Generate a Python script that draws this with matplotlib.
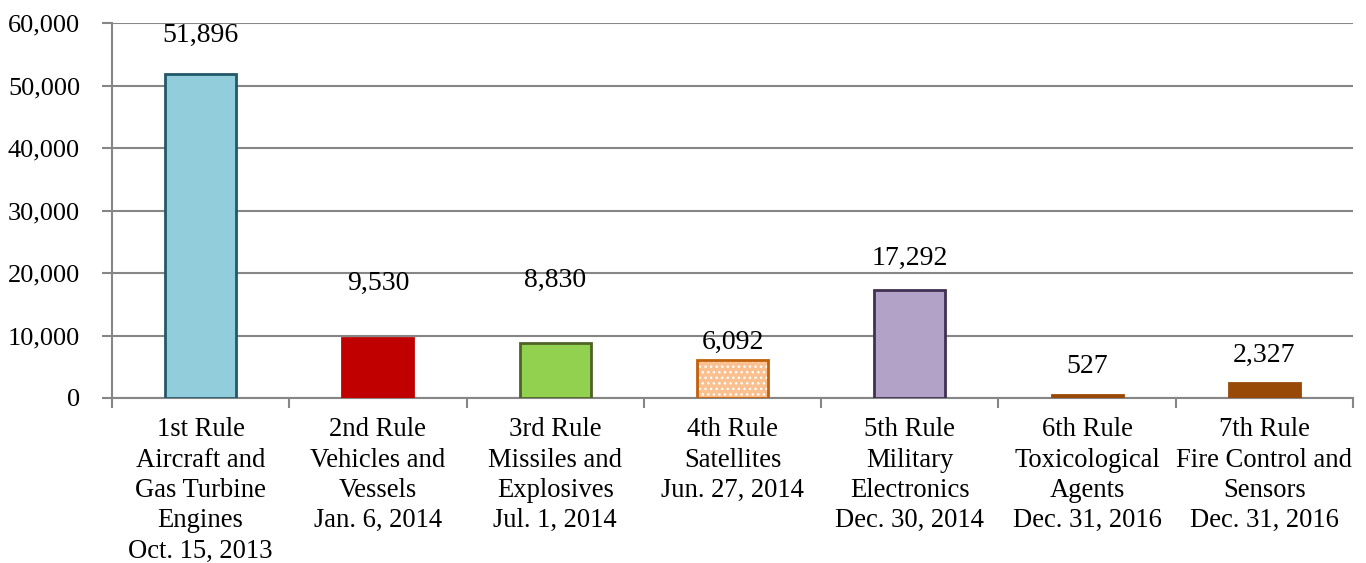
import matplotlib
matplotlib.use("Agg")
import matplotlib.pyplot as plt
import numpy as np

categories = [
    "1st Rule\nAircraft and\nGas Turbine\nEngines\nOct. 15, 2013",
    "2nd Rule\nVehicles and\nVessels\nJan. 6, 2014",
    "3rd Rule\nMissiles and\nExplosives\nJul. 1, 2014",
    "4th Rule\nSatellites\nJun. 27, 2014",
    "5th Rule\nMilitary\nElectronics\nDec. 30, 2014",
    "6th Rule\nToxicological\nAgents\nDec. 31, 2016",
    "7th Rule\nFire Control and\nSensors\nDec. 31, 2016",
]
values = [51896, 9530, 8830, 6092, 17292, 527, 2327]
yticks = [0, 10000, 20000, 30000, 40000, 50000, 60000]

fills = ["#92CDDC", "#C00000", "#92D050", "#FAC090", "#B3A2C7", "#984807", "#984807"]
edges = ["#215968", "#C00000", "#4F6228", "#C0600A", "#403152", "#984807", "#984807"]
label_offsets_px = [38, 55, 62, 18, 32, 28, 28]

plt.rcParams['font.family'] = ['Liberation Serif', 'DejaVu Serif']
fig = plt.figure(figsize=(13.66, 5.63), dpi=100)
ax = fig.add_axes([112/1366, 1-398/563, (1353-112)/1366, (398-23)/563])

x = np.arange(len(values))
for i, v in enumerate(values):
    if i == 3:
        ax.bar(x[i], v, width=0.4, color=fills[i], edgecolor="white", hatch="...", linewidth=0, zorder=3)
        ax.bar(x[i], v, width=0.4, fill=False, edgecolor=edges[i], linewidth=2, zorder=4)
    else:
        ax.bar(x[i], v, width=0.4, color=fills[i], edgecolor=edges[i], linewidth=2, zorder=3)
    ax.annotate(f"{v:,}", (x[i], v), xytext=(0, label_offsets_px[i]), textcoords="offset pixels",
                ha="center", va="center", fontsize=20, color="black")

ax.set_xlim(-0.5, len(values) - 0.5)
ax.set_ylim(0, 60000)
ax.set_yticks(yticks)
ax.set_yticklabels([f"{t:,}" for t in yticks], fontsize=19)
ax.yaxis.grid(True, color="#868686", linewidth=1.5, zorder=0)
ax.set_axisbelow(True)

ax.set_xticks(np.arange(-0.5, len(values), 1.0))
ax.set_xticklabels([])
ax.set_xticks(x, minor=True)
ax.set_xticklabels(categories, minor=True, fontsize=19.2, linespacing=1.28)
ax.tick_params(axis="x", which="minor", length=0, pad=14)
ax.tick_params(axis="x", which="major", length=7, width=1.5, color="#868686")
ax.tick_params(axis="y", length=7, width=1.5, color="#868686", pad=16)

for s in ["top", "right"]:
    ax.spines[s].set_visible(False)
for s in ["left", "bottom"]:
    ax.spines[s].set_color("#868686")
    ax.spines[s].set_linewidth(1.5)

fig.savefig("out.png", dpi=100, facecolor="white")
